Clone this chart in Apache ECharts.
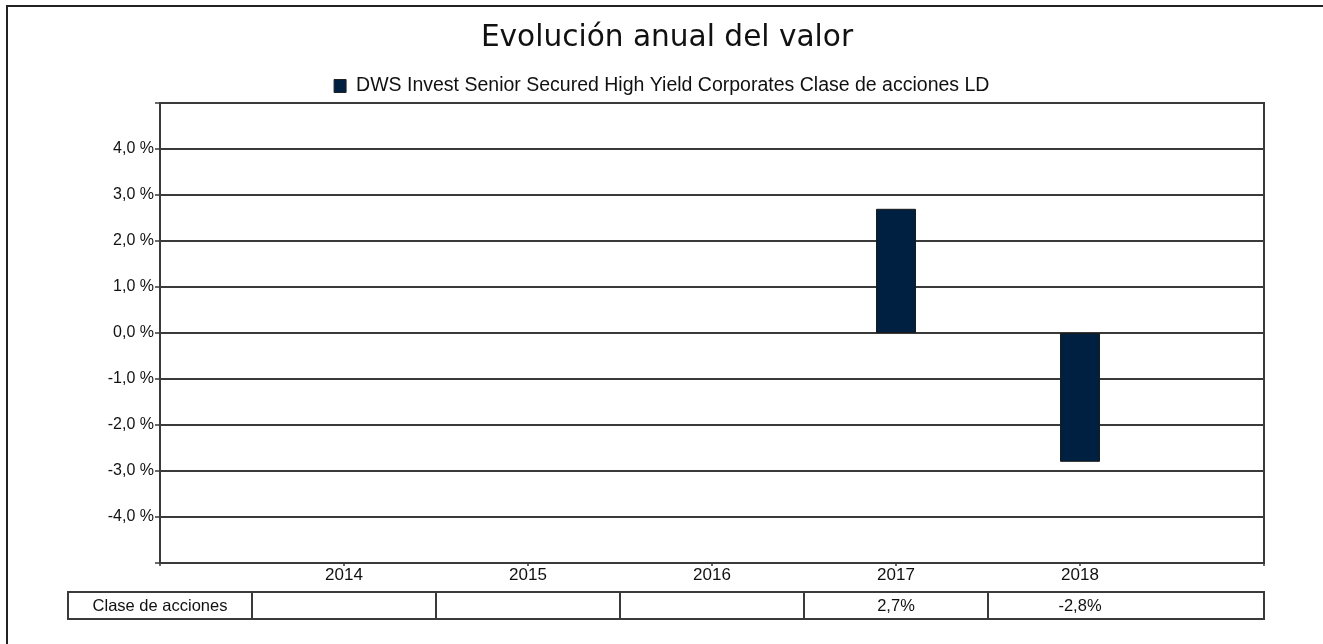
<!DOCTYPE html>
<html><head><meta charset="utf-8">
<script src="https://cdn.jsdelivr.net/npm/echarts@6/dist/echarts.min.js"></script>
<style>html,body{margin:0;padding:0;background:#fff}#c{width:1323px;height:644px}</style>
</head><body><div id="c"></div>
<script>
const categories = ['', '2014', '2015', '2016', '2017', '2018', ''];
const seriesName = 'DWS Invest Senior Secured High Yield Corporates Clase de acciones LD';
const values = [null, null, null, null, 2.7, -2.8, null];
const tableRowLabel = 'Clase de acciones';
const tableValues = ['', '', '', '2,7%', '-2,8%'];
const yTicks = [-5, -4, -3, -2, -1, 0, 1, 2, 3, 4, 5];

const chart = echarts.init(document.getElementById('c'), null, {renderer: 'canvas'});
const lineCol = '#3a3a3a';
const font = 'Liberation Sans, Arial, sans-serif';
chart.setOption({
  animation: false,
  backgroundColor: '#fff',
  title: {
    text: 'Evolución anual del valor', left: 662, textAlign: 'center', top: 18,
    textStyle: {fontFamily: 'DejaVu Sans', fontSize: 29.6, fontWeight: 'normal', color: '#111'}
  },
  legend: {
    top: 71, left: 'center', icon: 'rect', itemWidth: 12, itemHeight: 13, itemGap: 8,
    textStyle: {fontFamily: font, fontSize: 19.5, color: '#111', padding: [0, 0, 0, 5]},
    data: [{name: seriesName, itemStyle: {borderColor: '#222', borderWidth: 1}}]
  },
  grid: {left: 160, top: 103, right: 59, bottom: 81, show: true, borderColor: lineCol, borderWidth: 2, backgroundColor: '#fff'},
  xAxis: {
    type: 'category', data: categories, boundaryGap: false,
    axisLine: {onZero: false, lineStyle: {color: lineCol, width: 2}},
    axisTick: {show: true, length: 3, lineStyle: {color: lineCol, width: 1.5}},
    axisLabel: {fontFamily: font, fontSize: 17, color: '#111', margin: 4, interval: 0},
    splitLine: {show: false}
  },
  yAxis: {
    type: 'value', min: -5, max: 5, interval: 1,
    axisLine: {show: true, lineStyle: {color: lineCol, width: 2}},
    axisTick: {show: true, length: 5, lineStyle: {color: lineCol, width: 1.5}},
    axisLabel: {
      fontFamily: font, fontSize: 16, color: '#111', margin: 6,
      formatter: v => (Math.abs(v) >= 5 ? '' : v.toFixed(1).replace('.', ',') + ' %')
    },
    splitLine: {show: true, lineStyle: {color: lineCol, width: 2}}
  },
  series: [{
    name: seriesName, type: 'bar', data: values, barWidth: 40,
    itemStyle: {color: '#002041', borderColor: '#1a1a1a', borderWidth: 1}
  }]
});

function drawTable() {
  const xs = categories.map((c, i) => chart.convertToPixel({xAxisIndex: 0}, i));
  const step = xs[1] - xs[0];
  const yTop = 592, h = 27;
  const els = [];
  els.push({type: 'rect', shape: {x: 7, y: 6, width: 1400, height: 700}, style: {fill: 'none', stroke: '#222', lineWidth: 2}, z: 100, silent: true});
  const bounds = [xs[0] - step / 2];
  for (let i = 0; i < tableValues.length; i++) bounds.push(xs[i + 1] - step / 2);
  bounds.push(xs[xs.length - 1]);
  const labels = [tableRowLabel].concat(tableValues);
  for (let i = 0; i < labels.length; i++) {
    const x0 = bounds[i], x1 = bounds[i + 1];
    els.push({type: 'rect', shape: {x: Math.round(x0), y: yTop, width: Math.round(x1) - Math.round(x0), height: h},
      style: {fill: '#fff', stroke: lineCol, lineWidth: 2}, z: 100, silent: true});
    const cx = i === 0 ? (x0 + x1) / 2 : xs[i];
    els.push({type: 'text', x: cx, y: yTop + h / 2 + 1, style: {text: labels[i], fill: '#111', font: '16.5px ' + font, textAlign: 'center', textVerticalAlign: 'middle'}, z: 101, silent: true});
  }
  chart.setOption({graphic: {elements: els}});
}
drawTable();
</script></body></html>
